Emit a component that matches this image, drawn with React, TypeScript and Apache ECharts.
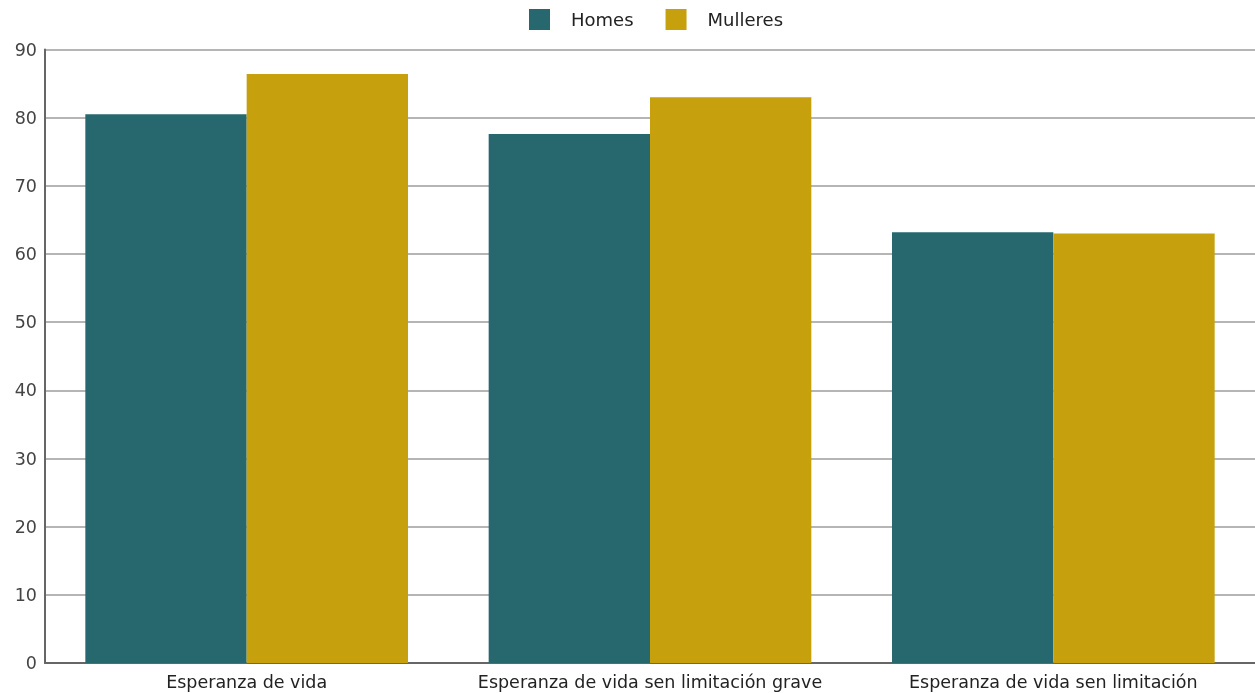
import React, { useEffect, useRef } from "react";
import * as echarts from "echarts";

const categories = [
  "Esperanza de vida",
  "Esperanza de vida sen limitación grave",
  "Esperanza de vida sen limitación",
];
const homes = [80.5, 77.6, 63.2];
const mulleres = [86.4, 83.0, 63.0];
const yTicks = { min: 0, max: 90, interval: 10 };

export default function App() {
  const ref = useRef<HTMLDivElement>(null);
  useEffect(() => {
    if (!ref.current) return;
    const chart = echarts.init(ref.current, null, { renderer: "svg" });
    const font = "'DejaVu Sans', sans-serif";
    chart.setOption({
      animation: false,
      textStyle: { fontFamily: font },
      legend: {
        top: 4,
        left: 524,
        itemWidth: 21,
        itemHeight: 21,
        itemGap: 32,
        icon: "rect",
        textStyle: { fontSize: 18, color: "#222", fontFamily: font, padding: [0, 0, 0, 16] },
        data: ["Homes", "Mulleres"],
      },
      grid: { left: 45, right: 0, top: 49.5, bottom: 30, containLabel: false },
      xAxis: {
        type: "category",
        data: categories,
        axisLine: { lineStyle: { color: "#666", width: 2 } },
        axisTick: { show: false },
        axisLabel: { fontSize: 17.5, color: "#222", margin: 10, fontFamily: font, interval: 0 },
      },
      yAxis: {
        type: "value",
        min: yTicks.min,
        max: yTicks.max,
        interval: yTicks.interval,
        axisLine: { show: true, lineStyle: { color: "#666", width: 2 } },
        axisTick: { show: false },
        splitLine: { lineStyle: { color: "#b5b5b5", width: 2 } },
        axisLabel: { fontSize: 17.5, color: "#444", margin: 8, fontFamily: font },
      },
      series: [
        {
          name: "Homes",
          type: "bar",
          data: homes,
          barGap: "0%",
          barCategoryGap: "20%",
          itemStyle: { color: "#27686E" },
        },
        {
          name: "Mulleres",
          type: "bar",
          data: mulleres,
          barGap: "0%",
          barCategoryGap: "20%",
          itemStyle: { color: "#C6A00D" },
        },
      ],
    });
    return () => chart.dispose();
  }, []);
  return (
    <div
      ref={ref}
      style={{ position: "fixed", left: 0, top: 0, width: 1255, height: 693 }}
    />
  );
}
